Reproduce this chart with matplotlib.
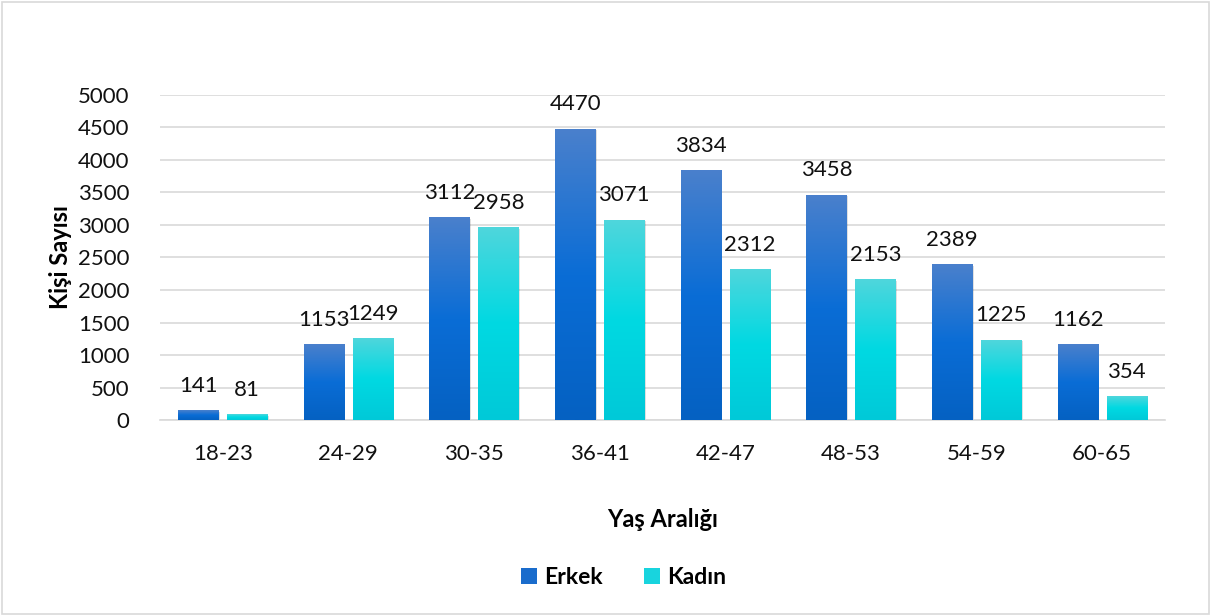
import matplotlib
matplotlib.use("Agg")
import matplotlib.pyplot as plt
import numpy as np
from matplotlib.colors import LinearSegmentedColormap
from matplotlib.patches import Rectangle, Patch

categories = ["18-23", "24-29", "30-35", "36-41", "42-47", "48-53", "54-59", "60-65"]
erkek = [141, 1153, 3112, 4470, 3834, 3458, 2389, 1162]
kadin = [81, 1249, 2958, 3071, 2312, 2153, 1225, 354]
series_names = ["Erkek", "Kadın"]
yticks = [0, 500, 1000, 1500, 2000, 2500, 3000, 3500, 4000, 4500, 5000]

plt.rcParams['font.family'] = ['Lato', 'DejaVu Sans']

fig = plt.figure(figsize=(12.11, 6.16), dpi=100)
fig.patches.append(Rectangle((0.002, 0.003), 0.996, 0.994, transform=fig.transFigure,
                             fill=False, edgecolor="#d9d9d9", linewidth=1.2))
ax = fig.add_axes([0.132, 0.318, 0.830, 0.528])

cmap_e = LinearSegmentedColormap.from_list("e", ["#0561c2", "#0a6dd6", "#4a80cc"])
cmap_k = LinearSegmentedColormap.from_list("k", ["#00c9d8", "#00d9e2", "#4fd6dc"])

x = np.arange(len(categories))
w = 0.32
off = 0.195
grad = np.linspace(0, 1, 256).reshape(-1, 1)

ax.set_xlim(-0.5, len(categories) - 0.5)
ax.set_ylim(0, 5000)

for vals, dx, cmap in [(erkek, -off, cmap_e), (kadin, off, cmap_k)]:
    bars = ax.bar(x + dx, vals, width=w, color="none", zorder=3)
    for b, v in zip(bars, vals):
        x0 = b.get_x()
        ax.add_patch(Rectangle((x0 + 0.012, 0), w, v - 15, facecolor="#000000", alpha=0.12,
                               edgecolor="none", zorder=2.5))
        ax.imshow(grad, extent=[x0, x0 + w, 0, v], origin="lower", cmap=cmap,
                  aspect="auto", zorder=3, interpolation="bilinear")
        ax.text(b.get_x() + w / 2, v + 230, f"{v}", ha="center", va="bottom",
                fontsize=16, color="#111111", zorder=4)

ax.set_xlim(-0.5, len(categories) - 0.5)
ax.set_ylim(0, 5000)
ax.set_yticks(yticks)
ax.set_yticklabels([str(t) for t in yticks], fontsize=16)
ax.set_xticks(x)
ax.set_xticklabels(categories, fontsize=16)
ax.tick_params(axis="both", length=0, colors="#111111")
ax.tick_params(axis="y", pad=22)
ax.tick_params(axis="x", pad=17)
ax.grid(axis="y", color="#d9d9d9", linewidth=1.2, zorder=0)
ax.set_axisbelow(True)
for s in ["top", "right", "left"]:
    ax.spines[s].set_visible(False)
ax.spines["bottom"].set_color("#d9d9d9")
ax.spines["bottom"].set_linewidth(1.2)

ax.set_ylabel("Kişi Sayısı", fontsize=17, fontweight="bold", labelpad=4)
ax.set_xlabel("Yaş Aralığı", fontsize=17, fontweight="bold", labelpad=32)

handles = [Patch(facecolor="#1a6ccc", label=series_names[0]),
           Patch(facecolor="#18d4de", label=series_names[1])]
fig.legend(handles=handles, loc="center", bbox_to_anchor=(0.515, 0.062), ncol=2,
           frameon=False, prop={"size": 16.5, "weight": "bold"},
           handlelength=0.7, handleheight=0.7, handletextpad=0.3, columnspacing=1.8)

fig.savefig("out.png", dpi=100)
